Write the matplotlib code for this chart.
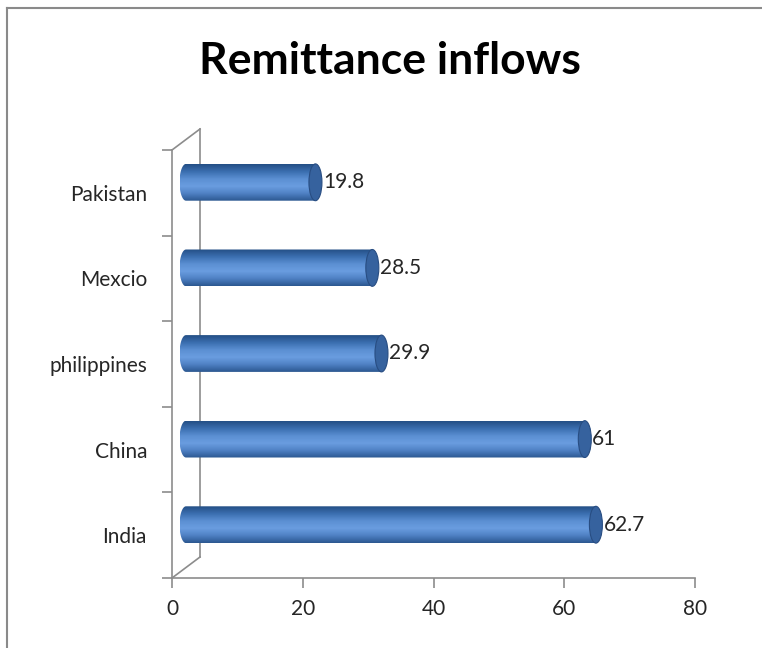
import numpy as np
import matplotlib
matplotlib.use("Agg")
import matplotlib.pyplot as plt
from matplotlib.patches import Ellipse, PathPatch
from matplotlib.path import Path
from matplotlib.lines import Line2D
from matplotlib.colors import LinearSegmentedColormap

# data (bottom to top)
countries = ["India", "China", "philippines", "Mexcio", "Pakistan"]
inflows = [62.7, 61, 29.9, 28.5, 19.8]
x_ticks = [0, 20, 40, 60, 80]

plt.rcParams['font.family'] = ['Lato', 'DejaVu Sans']

W, H = 762, 648
fig = plt.figure(figsize=(W / 100, H / 100), dpi=100)

# axes box in pixels: x 172..695, y 150..578 (from top)
ax = fig.add_axes([172 / W, (H - 578) / H, (695 - 172) / W, (578 - 150) / H])
ax.set_xlim(0, 80)
ax.set_ylim(-0.5, len(countries) - 0.5)

# 3d depth offset in pixels, converted to data units
dx_px, dy_px = 28, 21
px_x = 80 / (695 - 172)
px_y = len(countries) / (578 - 150)
off_x = dx_px / 2 * px_x
off_y = dy_px / 2 * px_y

bar_h = 0.43
cap_w = 13 * px_x
cmap = LinearSegmentedColormap.from_list(
    "cyl", ["#244f86", "#3b6fb0", "#5b8fd2", "#6a9de0", "#4f81c4", "#2c5891"])
grad = np.linspace(0, 1, 64).reshape(-1, 1)

for i, v in enumerate(inflows):
    yc = i + off_y
    x0 = 0 + off_x
    x1 = v + off_x
    a = cap_w / 2
    # clip shape: left half ellipse + rectangle
    th = np.linspace(np.pi / 2, 3 * np.pi / 2, 40)
    verts = list(zip(x0 + a * np.cos(th), yc + bar_h / 2 * np.sin(th)))
    verts += [(x1, yc - bar_h / 2), (x1, yc + bar_h / 2), verts[0]]
    clip = PathPatch(Path(verts), facecolor="none", edgecolor="none")
    ax.add_patch(clip)
    im = ax.imshow(grad, cmap=cmap, aspect="auto", origin="upper",
                   extent=[x0 - a, x1, yc - bar_h / 2, yc + bar_h / 2],
                   zorder=3)
    im.set_clip_path(clip)
    cap = Ellipse((x1, yc), cap_w, bar_h, facecolor="#36629e",
                  edgecolor="#284d82", linewidth=0.8, zorder=4)
    ax.add_patch(cap)
    ax.text(x1 + a + 1 * px_x, yc, f"{v:g}", ha="left", va="center",
            fontsize=15, color="#262626", zorder=5)

ax.set_xlim(0, 80)
ax.set_ylim(-0.5, len(countries) - 0.5)

# spines and ticks
for s in ["top", "right"]:
    ax.spines[s].set_visible(False)
for s in ["left", "bottom"]:
    ax.spines[s].set_color("#8c8c8c")
    ax.spines[s].set_linewidth(1.2)

ax.set_xticks(x_ticks)
ax.set_xticklabels([str(t) for t in x_ticks])
ax.set_yticks(np.arange(len(countries)))
ax.set_yticklabels(countries)
ax.set_yticks(np.arange(len(countries) + 1) - 0.5, minor=True)
ax.tick_params(axis="y", which="major", length=0, pad=18, labelsize=15,
               labelcolor="#262626")
ax.tick_params(axis="y", which="minor", length=7, width=1.2, color="#8c8c8c")
ax.tick_params(axis="x", length=7, width=1.2, color="#8c8c8c", pad=8,
               labelsize=15, labelcolor="#262626")

# back wall lines
wx = 2 * off_x
wy = 2 * off_y
ylo, yhi = -0.5, len(countries) - 0.5
kw = dict(color="#8c8c8c", linewidth=1.2, clip_on=False, zorder=2)
ax.plot([wx, wx], [ylo + wy, yhi + wy], **kw)
ax.plot([0, wx], [ylo, ylo + wy], **kw)
ax.plot([0, wx], [yhi, yhi + wy], **kw)

# title
fig.text(390 / W, 1 - 61 / H, "Remittance inflows", ha="center", va="center",
         fontsize=32, fontweight="bold", color="black")

# chart border (only top and left edges fall inside the image)
bx, by = 6.5 / W, 1 - 7.5 / H
fig.lines.append(Line2D([bx, 1], [by, by], transform=fig.transFigure,
                        color="#8a8a8a", linewidth=1.5))
fig.lines.append(Line2D([bx, bx], [0, by], transform=fig.transFigure,
                        color="#8a8a8a", linewidth=1.5))

fig.savefig("out.png", dpi=100)
